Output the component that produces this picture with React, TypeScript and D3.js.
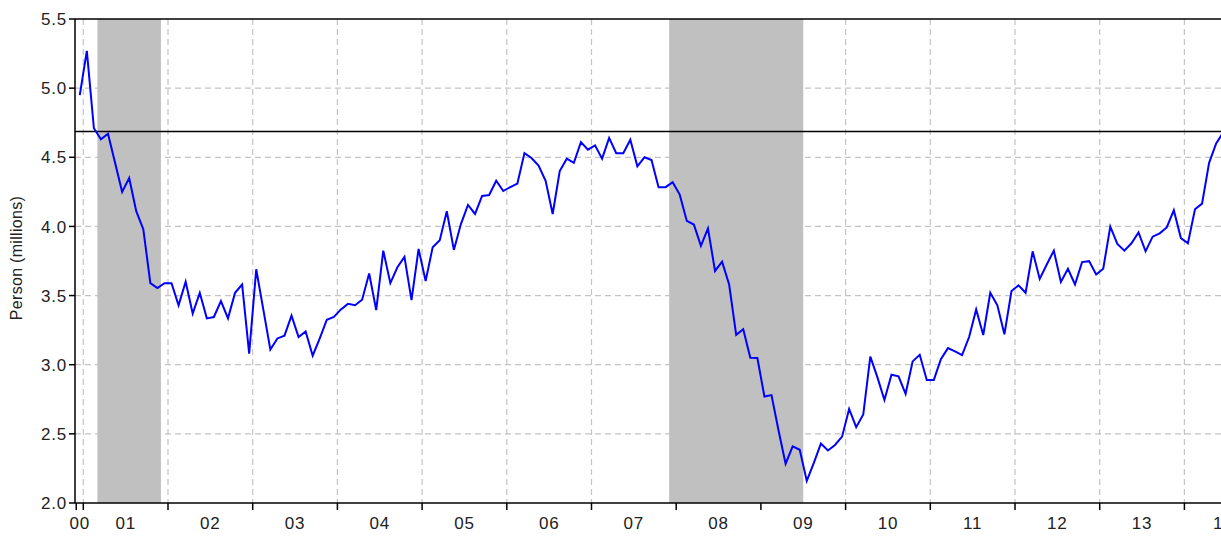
import * as d3 from 'd3';

// Person (millions), monthly, Dec 2000 .. Jun 2014
const firstMonth = 2000 + 11 / 12;
const values = [
  4.95,
  5.27, 4.71, 4.63, 4.67, 4.46, 4.25, 4.35, 4.11, 3.98, 3.59, 3.555, 3.59,
  3.59, 3.43, 3.6, 3.37, 3.52, 3.335, 3.345, 3.46, 3.335, 3.52, 3.58, 3.08,
  3.69, 3.4, 3.11, 3.19, 3.21, 3.355, 3.2, 3.24, 3.065, 3.19, 3.325, 3.345,
  3.4, 3.44, 3.43, 3.47, 3.66, 3.395, 3.825, 3.59, 3.705, 3.78, 3.467, 3.837,
  3.605, 3.85, 3.9, 4.11, 3.83, 4.017, 4.155, 4.09, 4.22, 4.227, 4.33, 4.256,
  4.285, 4.31, 4.53, 4.495, 4.44, 4.33, 4.09, 4.4, 4.49, 4.46, 4.61, 4.555,
  4.586, 4.49, 4.64, 4.53, 4.53, 4.627, 4.435, 4.5, 4.48, 4.284, 4.284, 4.32,
  4.23, 4.04, 4.014, 3.86, 3.986, 3.678, 3.745, 3.58, 3.216, 3.257, 3.05, 3.048,
  2.77, 2.78, 2.524, 2.284, 2.41, 2.385, 2.16, 2.29, 2.43, 2.38, 2.42, 2.48,
  2.68, 2.548, 2.64, 3.058, 2.91, 2.745, 2.928, 2.916, 2.79, 3.024, 3.072, 2.89,
  2.89, 3.04, 3.12, 3.096, 3.07, 3.2, 3.4, 3.215, 3.52, 3.43, 3.22, 3.533,
  3.574, 3.52, 3.82, 3.62, 3.725, 3.825, 3.598, 3.694, 3.58, 3.742, 3.749, 3.653,
  3.694, 3.998, 3.873, 3.825, 3.878, 3.957, 3.82, 3.926, 3.95, 3.993, 4.117, 3.916,
  3.878, 4.124, 4.165, 4.46, 4.6, 4.68,
];

const years = d3.range(2000, 2015);
const yTicks = [2.0, 2.5, 3.0, 3.5, 4.0, 4.5, 5.0, 5.5];
// shaded recessions, as [start, end] in fractional years
const recessions = [
  [2001 + 2 / 12, 2001 + 11 / 12],
  [2007 + 11 / 12, 2009 + 6 / 12],
];
const refLevel = 4.686;

const W = 1221;
const H = 536;
const left = 75;
const right = 1262;
const top = 19;
const bottom = 503;
const font = '"Liberation Sans", Arial, sans-serif';

export default function App() {
  const x = d3.scaleLinear().domain([2001, 2014]).range([83.3, 1184.4]);
  const y = d3.scaleLinear().domain([2, 5.5]).range([bottom, top]);
  const x0 = x.invert(left);
  const x1 = x.invert(right);

  const line = d3.line<number>()
    .x((d, i) => x(firstMonth + (i + 0.5) / 12))
    .y(d => y(d));

  const xTicks = [firstMonth, ...years.filter(t => t > x0 && t < x1)];

  return (
    <svg width={W} height={H} style={{ position: 'absolute', left: 0, top: 0, background: '#fff' }}>
      <defs>
        <clipPath id="plot">
          <rect x={left} y={top} width={right - left} height={bottom - top} />
        </clipPath>
      </defs>
      <g stroke="#c4c4c4" strokeWidth={1.2} strokeDasharray="6,4">
        {yTicks.slice(1, -1).map(t => (
          <line key={t} x1={left} x2={right} y1={y(t)} y2={y(t)} />
        ))}
        {years.filter(t => t > x0 && t < x1).map(t => (
          <line key={t} x1={x(t)} x2={x(t)} y1={top} y2={bottom} />
        ))}
      </g>
      <g fill="#c0c0c0">
        {recessions.map(([a, b]) => (
          <rect key={a} x={x(a)} width={x(b) - x(a)} y={top} height={bottom - top} />
        ))}
      </g>
      <line x1={left} x2={right} y1={y(refLevel)} y2={y(refLevel)} stroke="#000" strokeWidth={1.5} />
      <path d={line(values) || ''} fill="none" stroke="#0000ff" strokeWidth={2} clipPath="url(#plot)" />
      <g stroke="#000" strokeWidth={1.5}>
        <line x1={left} x2={right} y1={top} y2={top} />
        <line x1={left} x2={left} y1={top} y2={bottom} />
        <line x1={left} x2={right} y1={bottom} y2={bottom} />
        {yTicks.map(t => (
          <line key={t} x1={left - 6} x2={left} y1={y(t)} y2={y(t)} />
        ))}
        {xTicks.map(t => (
          <line key={t} x1={x(t)} x2={x(t)} y1={bottom} y2={bottom + 7} />
        ))}
      </g>
      <g fontFamily={font} fontSize={17} fill="#222" letterSpacing={0.8}>
        {yTicks.map(t => (
          <text key={t} x={left - 8} y={y(t)} dy="0.36em" textAnchor="end">{d3.format('.1f')(t)}</text>
        ))}
        {years.map(t => {
          const a = Math.max(x(t), x(firstMonth));
          const b = Math.min(x(t + 1), x(x1));
          return (
            <text key={t} x={(a + b) / 2} y={529} textAnchor="middle">{String(t % 100).padStart(2, '0')}</text>
          );
        })}
        <text transform="translate(22,258) rotate(-90)" textAnchor="middle" fontSize={16} letterSpacing={0.3}>Person (millions)</text>
      </g>
    </svg>
  );
}
